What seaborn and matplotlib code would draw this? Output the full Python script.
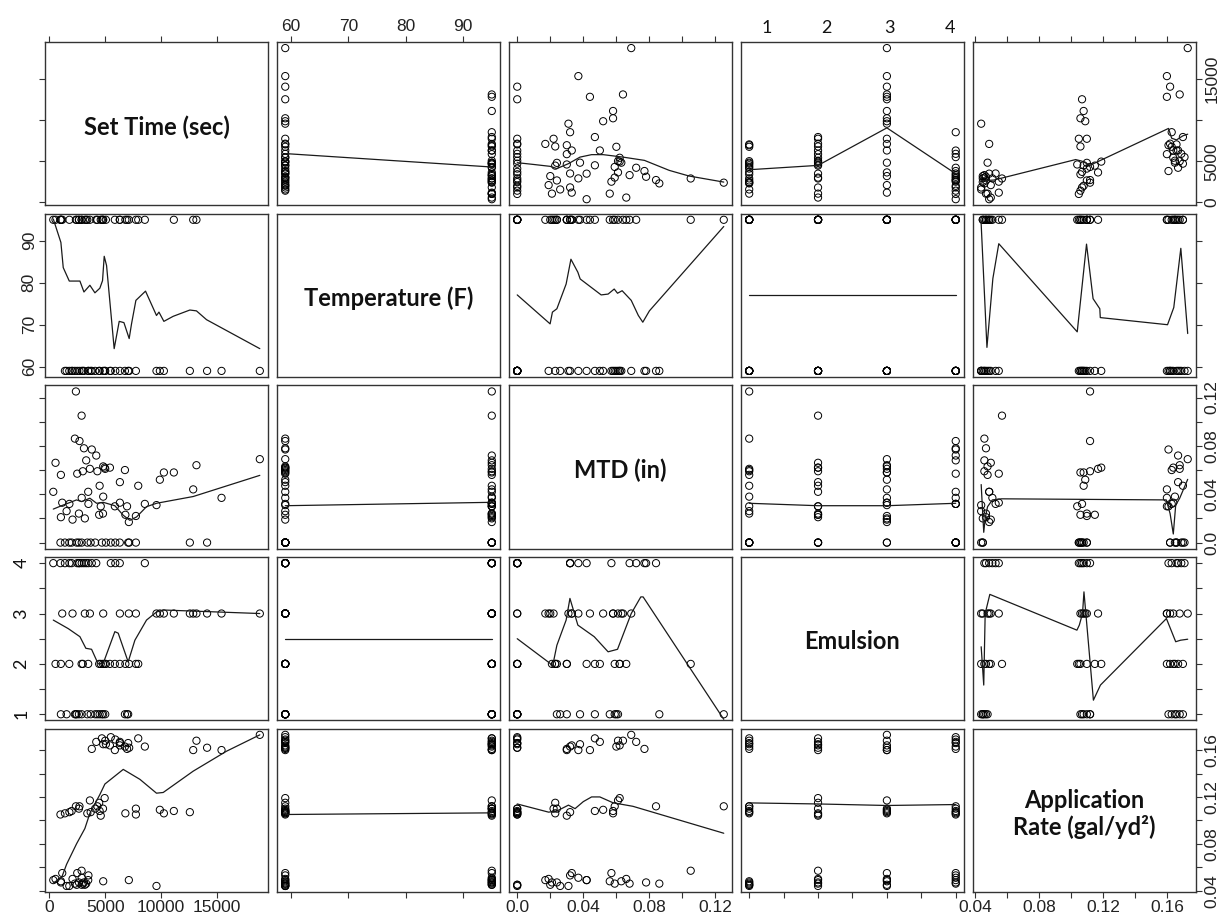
import matplotlib
matplotlib.use("Agg")
import matplotlib.pyplot as plt
import matplotlib.transforms as mtransforms
import pandas as pd
import seaborn as sns

sns.set_style("white")
plt.rcParams["font.family"] = ["Liberation Sans Narrow", "Liberation Sans", "DejaVu Sans"]
plt.rcParams["ytick.alignment"] = "center"

# ---- data: 72 runs (temperature x emulsion x application rate, 3 reps) ----
cols = ["set_time", "temperature", "mtd", "emulsion", "app_rate"]
names = ["Set Time (sec)", "Temperature (F)", "MTD (in)", "Emulsion",
         "Application\nRate (gal/yd\u00b2)"]

set_time = [2900, 2290, 1550, 2650, 2450, 1040,
            4500, 4100, 3700, 4300, 2380, 3400,
            7050, 6760, 5000, 6950, 4820, 4700,
            3480, 1790, 3000, 2890, 1040, 560,
            7740, 4950, 4460, 6800, 4800, 4600,
            7140, 6310, 5420, 7950, 5860, 5060,
            9580, 4820, 2080, 7110, 3180, 1160,
            12560, 10240, 9880, 11130, 7740, 3630,
            18810, 15390, 14100, 13150, 12860, 6310,
            3500, 3100, 2500, 3300, 2900, 360,
            2700, 2000, 1400, 2650, 1800, 1000,
            5900, 5500, 3800, 8540, 6300, 4200]
temperature = [59, 59, 59, 95, 95, 95, 59, 59, 59, 95, 95, 95,
               59, 59, 59, 95, 95, 95, 59, 59, 59, 95, 95, 95,
               59, 59, 59, 95, 95, 95, 59, 59, 59, 95, 95, 95,
               59, 59, 59, 95, 95, 95, 59, 59, 59, 95, 95, 95,
               59, 59, 59, 95, 95, 95, 59, 59, 59, 95, 95, 95,
               59, 59, 59, 95, 95, 95, 59, 59, 59, 95, 95, 95]
mtd = [0, .086, .026, .024, 0, .056,
       .047, 0, 0, .059, .125, 0,
       0, .060, .061, .030, .038, 0,
       .042, 0, .059, .105, .021, .066,
       0, .062, .023, .023, .024, .030,
       0, .050, .062, .047, .030, 0,
       .031, .063, .019, .017, .020, .033,
       0, .058, .052, .058, .022, .061,
       .069, .037, 0, .064, .044, .033,
       .032, .078, .057, .068, .037, .042,
       .084, 0, 0, 0, .032, 0,
       0, 0, .077, .032, 0, .072]
emulsion = [1, 1, 1, 1, 1, 1, 1, 1, 1, 1, 1, 1, 1, 1, 1, 1, 1, 1,
            2, 2, 2, 2, 2, 2, 2, 2, 2, 2, 2, 2, 2, 2, 2, 2, 2, 2,
            3, 3, 3, 3, 3, 3, 3, 3, 3, 3, 3, 3, 3, 3, 3, 3, 3, 3,
            4, 4, 4, 4, 4, 4, 4, 4, 4, 4, 4, 4, 4, 4, 4, 4, 4, 4]
app_rate = [0.045, 0.046, 0.044, 0.047, 0.045, 0.048,
            0.108, 0.110, 0.107, 0.112, 0.112, 0.106,
            0.166, 0.163, 0.168, 0.161, 0.165, 0.170,
            0.049, 0.044, 0.046, 0.057, 0.047, 0.050,
            0.105, 0.119, 0.115, 0.106, 0.110, 0.104,
            0.162, 0.167, 0.164, 0.170, 0.160, 0.165,
            0.044, 0.048, 0.050, 0.049, 0.045, 0.055,
            0.107, 0.106, 0.109, 0.108, 0.110, 0.117,
            0.173, 0.160, 0.162, 0.168, 0.160, 0.164,
            0.053, 0.047, 0.055, 0.046, 0.051, 0.049,
            0.112, 0.108, 0.106, 0.110, 0.107, 0.105,
            0.169, 0.171, 0.161, 0.163, 0.166, 0.167]

# ---- smoother lines: (x, y) along each panel ----
fit_st_temp = [(59, 5930), (95, 4290)]
fit_st_mtd = [(0, 4820), (0.010, 4600), (0.020, 4370), (0.024, 4100), (0.031, 4700),
              (0.038, 5500), (0.045, 5800), (0.052, 5800), (0.064, 5500), (0.077, 5100),
              (0.092, 3880), (0.104, 3190), (0.125, 2450)]
fit_st_emul = [(1, 3960), (2, 4490), (3, 9070), (4, 3470)]
fit_st_app = [(0.044, 2600), (0.052, 2700), (0.103, 5200), (0.107, 5000), (0.112, 4500),
              (0.161, 9000), (0.163, 7800), (0.166, 7600), (0.170, 8100), (0.173, 8300)]

fit_temp_st = [(360, 95.2), (1040, 89.6), (1250, 83.6), (1790, 80.4), (2740, 80.4),
               (3100, 77.8), (3630, 79.4), (4080, 77.6), (4520, 78.7), (4760, 80.5),
               (4910, 86.3), (5120, 84.1), (5800, 64.3), (6250, 70.8), (6670, 70.5),
               (7140, 66.7), (7350, 70.2), (7740, 75.8), (8600, 78.0), (9580, 72.2),
               (9800, 73.0), (10240, 70.8), (11070, 72.0), (12560, 73.5), (13150, 73.3),
               (14050, 71.2), (18810, 64.3)]
fit_temp_mtd = [(0, 77.1), (0.0199, 70.2), (0.0213, 73.0), (0.024, 73.8), (0.0296, 79.7),
                (0.0325, 85.6), (0.0367, 82.5), (0.0381, 80.9), (0.0508, 77.1),
                (0.055, 77.3), (0.0587, 78.5), (0.0607, 77.5), (0.0635, 78.1),
                (0.069, 75.8), (0.0733, 72.2), (0.076, 70.6), (0.080, 73.3), (0.125, 93.4)]
fit_temp_emul = [(1, 77.1), (4, 77.1)]
fit_temp_app = [(0.0439, 94.8), (0.0476, 64.6), (0.0513, 81.0), (0.055, 89.3),
                (0.104, 68.3), (0.1098, 89.2), (0.1139, 76.2), (0.1181, 73.8),
                (0.1184, 71.7), (0.1604, 70.0), (0.1643, 74.1), (0.1687, 88.2),
                (0.173, 67.9)]

fit_mtd_st = [(360, 0.0277), (1100, 0.0305), (2440, 0.0353), (2890, 0.0339),
              (3630, 0.0367), (4230, 0.0325), (4820, 0.0333), (5860, 0.0305),
              (6610, 0.0226), (7200, 0.0184), (7800, 0.0212), (8690, 0.0297),
              (9580, 0.0325), (12860, 0.0381), (18810, 0.0556)]
fit_mtd_temp = [(59, 0.0305), (95, 0.0333)]
fit_mtd_emul = [(1, 0.0325), (2, 0.0305), (3, 0.0305), (4, 0.0325)]
fit_mtd_app = [(0.044, 0.048), (0.0456, 0.0085), (0.0465, 0.020), (0.048, 0.0297),
               (0.051, 0.0353), (0.0568, 0.0362), (0.1596, 0.0353), (0.162, 0.024),
               (0.164, 0.0071), (0.1655, 0.031), (0.168, 0.0367), (0.173, 0.0523)]

fit_emul_st = [(360, 2.87), (1700, 2.70), (2740, 2.54), (3270, 2.31), (3780, 2.29),
               (4370, 2.0), (4820, 2.01), (5860, 2.64), (6160, 2.61), (7050, 2.04),
               (7650, 2.47), (8690, 2.87), (9580, 3.03), (10180, 3.07), (18810, 3.0)]
fit_emul_temp = [(59, 2.49), (95, 2.49)]
fit_emul_mtd = [(0, 2.50), (0.0199, 2.01), (0.0213, 1.94), (0.024, 2.37), (0.0296, 2.87),
                (0.0319, 3.30), (0.0367, 2.77), (0.0466, 2.54), (0.055, 2.24),
                (0.0607, 2.29), (0.069, 3.0), (0.0748, 3.33), (0.0762, 3.33), (0.125, 0.9)]
fit_emul_app = [(0.044, 2.34), (0.0456, 1.58), (0.0465, 3.0), (0.0494, 3.38),
                (0.1038, 2.67), (0.1053, 2.77), (0.1073, 3.0), (0.1082, 3.43),
                (0.1141, 1.28), (0.1185, 1.58), (0.1597, 2.90), (0.1655, 2.44),
                (0.1685, 2.47), (0.173, 2.49)]

fit_app_st = [(360, 0.0466), (1100, 0.051), (1550, 0.0625), (2440, 0.080), (3180, 0.093),
              (3630, 0.106), (4520, 0.122), (4970, 0.131), (6610, 0.1435), (8100, 0.135),
              (9580, 0.1232), (10180, 0.1238), (12860, 0.142), (15830, 0.159),
              (18810, 0.173)]
fit_app_temp = [(59, 0.105), (95, 0.1064)]
fit_app_mtd = [(0, 0.114), (0.019, 0.107), (0.024, 0.108), (0.031, 0.113), (0.035, 0.110),
               (0.040, 0.116), (0.045, 0.120), (0.050, 0.120), (0.058, 0.115),
               (0.070, 0.112), (0.125, 0.089)]
fit_app_emul = [(1, 0.1149), (2, 0.114), (3, 0.1127), (4, 0.1135)]

fits = {
    ("set_time", "temperature"): fit_st_temp, ("set_time", "mtd"): fit_st_mtd,
    ("set_time", "emulsion"): fit_st_emul, ("set_time", "app_rate"): fit_st_app,
    ("temperature", "set_time"): fit_temp_st, ("temperature", "mtd"): fit_temp_mtd,
    ("temperature", "emulsion"): fit_temp_emul, ("temperature", "app_rate"): fit_temp_app,
    ("mtd", "set_time"): fit_mtd_st, ("mtd", "temperature"): fit_mtd_temp,
    ("mtd", "emulsion"): fit_mtd_emul, ("mtd", "app_rate"): fit_mtd_app,
    ("emulsion", "set_time"): fit_emul_st, ("emulsion", "temperature"): fit_emul_temp,
    ("emulsion", "mtd"): fit_emul_mtd, ("emulsion", "app_rate"): fit_emul_app,
    ("app_rate", "set_time"): fit_app_st, ("app_rate", "temperature"): fit_app_temp,
    ("app_rate", "mtd"): fit_app_mtd, ("app_rate", "emulsion"): fit_app_emul,
}

# tick positions and labels (R style: some labels skipped)
ticks = {
    "set_time": [0, 5000, 10000, 15000],
    "temperature": [60, 70, 80, 90],
    "mtd": [0, 0.02, 0.04, 0.06, 0.08, 0.10, 0.12],
    "emulsion": [1, 1.5, 2, 2.5, 3, 3.5, 4],
    "app_rate": [0.04, 0.06, 0.08, 0.10, 0.12, 0.14, 0.16],
}
xlabels = {
    "set_time": ["0", "5000", "10000", "15000"],
    "temperature": ["60", "70", "80", "90"],
    "mtd": ["0.0", "", "0.04", "", "0.08", "", "0.12"],
    "emulsion": [""] * 7,
    "app_rate": ["0.04", "", "0.08", "", "0.12", "", "0.16"],
}
ylabels = {
    "set_time": ["0", "5000", "", "15000"],
    "temperature": ["60", "70", "80", "90"],
    "mtd": ["0.0", "", "0.04", "", "0.08", "", "0.12"],
    "emulsion": [""] * 7,
    "app_rate": ["0.04", "", "0.08", "", "0.12", "", "0.16"],
}
emul_levels = [1, 2, 3, 4]

df = pd.DataFrame({"set_time": set_time, "temperature": temperature, "mtd": mtd,
                   "emulsion": emulsion, "app_rate": app_rate})

g = sns.PairGrid(df, vars=cols, despine=False, height=1.8, aspect=1.37)
g.map_offdiag(sns.scatterplot, facecolor="none", edgecolor="black", s=27,
              linewidth=0.7, marker="o")

fig = g.figure
fig.set_size_inches(12.2, 9.16)
fig.subplots_adjust(left=0.0369, right=0.9803, top=0.9541, bottom=0.0262,
                    wspace=0.040, hspace=0.052)

lims = {}
for c in cols:
    lo, hi = df[c].min(), df[c].max()
    pad = 0.04 * (hi - lo)
    lims[c] = (lo - pad, hi + pad)

ink = "#222222"
for i, yv in enumerate(cols):
    for j, xv in enumerate(cols):
        ax = g.axes[i, j]
        if i != j:
            pts = fits[(yv, xv)]
            sns.lineplot(x=[p[0] for p in pts], y=[p[1] for p in pts], ax=ax,
                         sort=False, estimator=None, color="#1a1a1a", linewidth=0.9)
        else:
            ax.text(0.5, 0.48, names[i], transform=ax.transAxes, ha="center",
                    va="center", fontsize=17, fontweight="bold", linespacing=1.15,
                    family=["Lato", "DejaVu Sans"], color="#111111")
        ax.set_xlabel("")
        ax.set_ylabel("")
        for sp in ax.spines.values():
            sp.set_color("#333333")
            sp.set_linewidth(1.0)

for j, c in enumerate(cols):
    g.axes[0, j].set_xlim(lims[c])
    g.axes[0, j].set_xticks(ticks[c], xlabels[c])
for i, c in enumerate(cols):
    g.axes[i, 0].set_ylim(lims[c])
    g.axes[i, 0].set_yticks(ticks[c], ylabels[c])

for i in range(5):
    for j in range(5):
        ax = g.axes[i, j]
        ax.tick_params(axis="x", which="both", bottom=(i == 4), top=(i == 0 and j != 3),
                       labelbottom=(i == 4 and j in (0, 2, 4)),
                       labeltop=(i == 0 and j == 1),
                       direction="out", length=4.5, width=0.8, pad=1.5,
                       labelsize=12.5, color="#333333", labelcolor=ink)
        ax.tick_params(axis="y", which="both", left=(j == 0), right=(j == 4),
                       labelleft=(j == 0 and i == 1),
                       labelright=(j == 4 and i in (0, 2, 4)),
                       direction="out", length=4.5, width=0.8, pad=1.5,
                       labelsize=12.5, labelrotation=90, color="#333333",
                       labelcolor=ink)

# emulsion labels were set in a different face on the original
ax = g.axes[3, 0]
trans = mtransforms.blended_transform_factory(ax.transAxes, ax.transData)
for lv in emul_levels:
    ax.text(-0.105, lv, str(lv), transform=trans, rotation=90, ha="center",
            va="center", fontsize=13, family=["Lato", "DejaVu Sans"], color="#111111")
for lab, xf in zip(["1", "2", "3", "4"], [0.117, 0.381, 0.664, 0.937]):
    g.axes[0, 3].text(xf, 1.085, lab, transform=g.axes[0, 3].transAxes,
                      ha="center", va="center", fontsize=13,
                      family=["Lato", "DejaVu Sans"], color="#111111")

fig.savefig("out.png", dpi=100)
